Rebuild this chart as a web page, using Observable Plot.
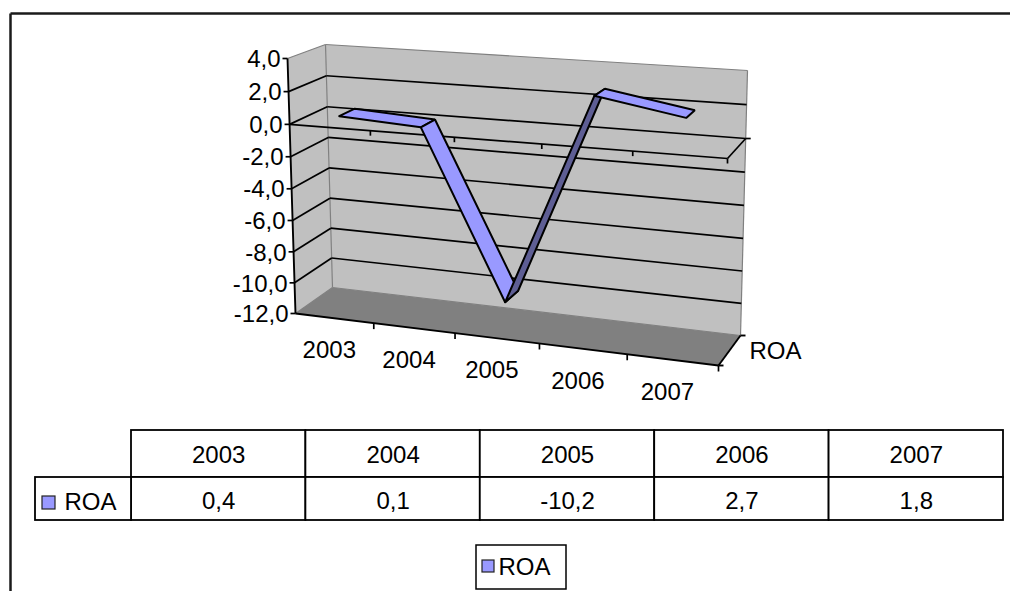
<!DOCTYPE html>
<html><head><meta charset="utf-8">
<script src="https://cdn.jsdelivr.net/npm/d3@7"></script>
<script src="https://cdn.jsdelivr.net/npm/@observablehq/plot@0.6"></script>
<style>html,body{margin:0;padding:0;background:#fff;} svg{display:block}</style>
</head><body><div id="chart"></div>
<script>
// ---- data ----
const categories = ["2003", "2004", "2005", "2006", "2007"];
const roa = [0.4, 0.1, -10.2, 2.7, 1.8];
const yTicks = [4, 2, 0, -2, -4, -6, -8, -10, -12];
const seriesName = "ROA";

// ---- layout / style ----
const W = 1010, H = 591;
const FONT = "'Liberation Sans', Arial, sans-serif";
const FS = 24;
const yMin = -12, yMax = 4, nCat = categories.length;
const ribbonZ = [0.27, 0.7];
const LIGHT = "#9999FF", DARK = "#5e5e94", WALL = "#C0C0C0", FLOOR = "#808080", EDGE = "#808080";
// projection calibration of the 3-D box: [category units, value] -> pixel, front and back planes
const frontCal = [[0, yMin, 295, 313], [nCat, yMin, 718, 365], [0, yMax, 287, 58], [nCat, 0, 727, 158]];
const backCal  = [[0, yMin, 332, 287], [nCat, yMin, 740, 335], [0, yMax, 325, 44], [nCat, yMax, 747, 70]];

function homography(pts) {
  const A = [], b = [];
  for (const [x, y, u, v] of pts) {
    A.push([x, y, 1, 0, 0, 0, -x * u, -y * u]); b.push(u);
    A.push([0, 0, 0, x, y, 1, -x * v, -y * v]); b.push(v);
  }
  const n = 8;
  for (let i = 0; i < n; i++) {
    let p = i;
    for (let r = i + 1; r < n; r++) if (Math.abs(A[r][i]) > Math.abs(A[p][i])) p = r;
    [A[i], A[p]] = [A[p], A[i]]; [b[i], b[p]] = [b[p], b[i]];
    for (let r = 0; r < n; r++) {
      if (r === i) continue;
      const f = A[r][i] / A[i][i];
      for (let c = i; c < n; c++) A[r][c] -= f * A[i][c];
      b[r] -= f * b[i];
    }
  }
  const h = b.map((v, i) => v / A[i][i]);
  return (x, y) => { const w = h[6] * x + h[7] * y + 1; return [(h[0] * x + h[1] * y + h[2]) / w, (h[3] * x + h[4] * y + h[5]) / w]; };
}
const H0 = homography(frontCal), H1 = homography(backCal);
function P(X, Y, Z) { const a = H0(X, Y), c = H1(X, Y); return [a[0] + (c[0] - a[0]) * Z, a[1] + (c[1] - a[1]) * Z]; }

function poly(pts3, opts) {
  const pts = pts3.map(p => P(...p)); pts.push(pts[0]);
  return Plot.line(pts, {x: d => d[0], y: d => d[1], ...opts});
}
function links(segs, opts) {
  return Plot.link(segs, {x1: d => d[0][0], y1: d => d[0][1], x2: d => d[1][0], y2: d => d[1][1], ...opts});
}
function area(pts) { let s = 0; for (let i = 0; i < pts.length; i++) { const a = pts[i], b = pts[(i + 1) % pts.length]; s += a[0] * b[1] - b[0] * a[1]; } return s; }
const fmt = v => v.toFixed(1).replace(".", ",");
const off = (p, dx, dy) => [p[0] + dx, p[1] + dy];

const [z1, z2] = ribbonZ;
const inner = yTicks.filter(t => t > yMin && t < yMax);
const catIdx = d3.range(nCat + 1);

// ribbon segments
const refSign = Math.sign(area([P(0, 0, z1), P(1, 0, z1), P(1, 0, z2), P(0, 0, z2)]));
const ribbon = d3.range(nCat - 1).map(i => {
  const A = [i + 0.5, roa[i]], B = [i + 1.5, roa[i + 1]];
  const q = [[...A, z1], [...B, z1], [...B, z2], [...A, z2]];
  const s = Math.sign(area(q.map(p => P(...p))));
  return poly(q, {fill: s === refSign ? LIGHT : DARK, stroke: "black", strokeWidth: 2, strokeLinejoin: "miter"});
});

// table layout
const tLeft = 131, tRight = 1003, tTop = 430, r1 = 477, r2 = 520, legCellLeft = 35;
const colW = (tRight - tLeft) / nCat;
const cols = categories.map((c, i) => ({c, v: roa[i], x1: tLeft + i * colW, x2: tLeft + (i + 1) * colW}));

const marks = [
  // outer chart frame
  Plot.link([[[10, 13], [W, 13]], [[10, 13], [10, H]]], {x1: d => d[0][0], y1: d => d[0][1], x2: d => d[1][0], y2: d => d[1][1], stroke: "#1a1a1a", strokeWidth: 2.5}),
  // walls and floor
  poly([[0, yMin, 0], [0, yMax, 0], [0, yMax, 1], [0, yMin, 1]], {fill: WALL, stroke: "none"}),
  poly([[0, yMin, 1], [nCat, yMin, 1], [nCat, yMax, 1], [0, yMax, 1]], {fill: WALL, stroke: "none"}),
  poly([[0, yMin, 0], [nCat, yMin, 0], [nCat, yMin, 1], [0, yMin, 1]], {fill: FLOOR, stroke: "none"}),
  // wall edges
  links([[P(0, yMin, 1), P(0, yMax, 1)], [P(nCat, yMin, 1), P(nCat, yMax, 1)],
         [P(0, yMax, 0), P(0, yMax, 1)], [P(0, yMax, 1), P(nCat, yMax, 1)],
         [P(0, yMin, 0), P(0, yMin, 1)], [P(0, yMin, 1), P(nCat, yMin, 1)]], {stroke: EDGE, strokeWidth: 1.2}),
  // gridlines on side and back walls
  links(inner.flatMap(t => [[P(0, t, 0), P(0, t, 1)], [P(0, t, 1), P(nCat, t, 1)]]), {stroke: "black", strokeWidth: 1.7}),
  // zero level (category axis crossing)
  links([[P(0, 0, 0), P(nCat, 0, 0)], [P(nCat, 0, 0), P(nCat, 0, 1)], [P(nCat, 0, 1), off(P(nCat, 0, 1), 5, 0)]], {stroke: "black", strokeWidth: 1.7}),
  links(catIdx.slice(1).map(i => [P(i, 0, 0), off(P(i, 0, 0), 0, 5)]), {stroke: "black", strokeWidth: 1.7}),
  // floor front edge (category axis) and depth axis
  links([[P(0, yMin, 0), P(nCat, yMin, 0)], [P(nCat, yMin, 0), P(nCat, yMin, 1)],
         [P(nCat, yMin, 0), off(P(nCat, yMin, 0), 5, 0)], [P(nCat, yMin, 1), off(P(nCat, yMin, 1), 5, 0)]], {stroke: "black", strokeWidth: 1.9}),
  links(catIdx.slice(1).map(i => [P(i, yMin, 0), off(P(i, yMin, 0), 0, 6)]), {stroke: "black", strokeWidth: 1.7}),
  // series ribbon
  ...ribbon,
  // value axis
  links([[P(0, yMin, 0), P(0, yMax, 0)]], {stroke: "black", strokeWidth: 1.9}),
  links(yTicks.map(t => [off(P(0, t, 0), -5, 0), P(0, t, 0)]), {stroke: "black", strokeWidth: 1.7}),
  Plot.text(yTicks, {x: t => P(0, t, 0)[0] - 7, y: t => P(0, t, 0)[1] + 1, text: fmt, textAnchor: "end", fontSize: FS, fill: "black"}),
  Plot.text(categories, {x: (c, i) => P(i + 0.5, yMin, 0)[0] - 5, y: (c, i) => P(i + 0.5, yMin, 0)[1] + 32, text: d => d, fontSize: FS, fill: "black"}),
  Plot.text([seriesName], {x: () => P(nCat, yMin, 0.5)[0] + 20, y: () => P(nCat, yMin, 0.5)[1] + 1, text: d => d, textAnchor: "start", fontSize: FS, fill: "black"}),
  // data table
  Plot.rect(cols, {x1: "x1", x2: "x2", y1: tTop, y2: r1, fill: "white", stroke: "black", strokeWidth: 1.8}),
  Plot.rect(cols, {x1: "x1", x2: "x2", y1: r1, y2: r2, fill: "white", stroke: "black", strokeWidth: 1.8}),
  Plot.rect([seriesName], {x1: legCellLeft, x2: tLeft, y1: r1, y2: r2, fill: "white", stroke: "black", strokeWidth: 1.8}),
  Plot.text(cols, {x: d => (d.x1 + d.x2) / 2, y: (tTop + r1) / 2 + 1, text: "c", fontSize: FS, fill: "black"}),
  Plot.text(cols, {x: d => (d.x1 + d.x2) / 2, y: (r1 + r2) / 2 + 2, text: d => fmt(d.v), fontSize: FS, fill: "black"}),
  Plot.rect([seriesName], {x1: legCellLeft + 7, x2: legCellLeft + 20, y1: 496, y2: 509, fill: LIGHT, stroke: "#222", strokeWidth: 1.2}),
  Plot.text([seriesName], {x: legCellLeft + 29, y: 502, text: d => d, textAnchor: "start", fontSize: FS, fill: "black"}),
  // legend
  Plot.rect([seriesName], {x1: 476, x2: 566, y1: 545, y2: 589, fill: "white", stroke: "black", strokeWidth: 1.5}),
  Plot.rect([seriesName], {x1: 482, x2: 494, y1: 560, y2: 572, fill: LIGHT, stroke: "#222", strokeWidth: 1.2}),
  Plot.text([seriesName], {x: 498, y: 567, text: d => d, textAnchor: "start", fontSize: FS, fill: "black"})
];

const chart = Plot.plot({
  width: W, height: H, margin: 0,
  x: {type: "identity", axis: null},
  y: {type: "identity", axis: null},
  style: {fontFamily: FONT, background: "white", overflow: "visible"},
  marks
});
document.getElementById("chart").appendChild(chart);
</script>
</body></html>
